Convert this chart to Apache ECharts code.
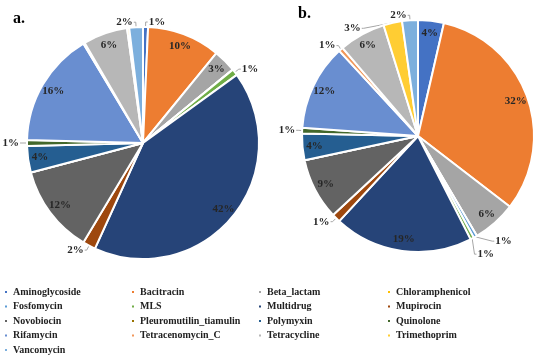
<!DOCTYPE html>
<html>
<head>
<meta charset="utf-8">
<script src="https://cdn.jsdelivr.net/npm/echarts@6/dist/echarts.min.js"></script>
<style>
html,body{margin:0;padding:0;background:#fff;}
#chart{width:545px;height:363px;}
</style>
</head>
<body>
<div id="chart"></div>
<script>
// classes (legend order)
var names = ['Aminoglycoside','Bacitracin','Beta_lactam','Chloramphenicol','Fosfomycin','MLS','Multidrug','Mupirocin',
	'Novobiocin','Pleuromutilin_tiamulin','Polymyxin','Quinolone','Rifamycin','Tetracenomycin_C','Tetracycline','Trimethoprim','Vancomycin'];
var colors = ['#4472C4','#ED7D31','#A5A5A5','#FFC000','#5B9BD5','#70AD47','#264478','#9E480E',
	'#636363','#997300','#255E91','#43682B','#698ED0','#F1975A','#B7B7B7','#FFCD33','#7CAFDD'];
// percentages
var valuesA = [0.7,10.2,3.2,0,0,0.9,41.8,1.8,12.3,0,3.7,0.8,16.0,0.2,6.2,0.3,1.9];
var valuesB = [3.6,31.9,6.1,0,0.5,0.5,19.4,1.2,8.6,0,3.7,0.8,12.0,0.6,6.5,2.6,2.2];
// legend columns
var legendCols = [
	['Aminoglycoside','Fosfomycin','Novobiocin','Rifamycin','Vancomycin'],
	['Bacitracin','MLS','Pleuromutilin_tiamulin','Tetracenomycin_C'],
	['Beta_lactam','Multidrug','Polymyxin','Tetracycline'],
	['Chloramphenicol','Mupirocin','Quinolone','Trimethoprim']
];

var font = 'Liberation Serif, Times New Roman, serif';
var R = 116;

function pct(p){ return Math.round(p.percent) + '%'; }

// main slices, small ones labelled outside
function mainData(vals){
	return vals.map(function(v,i){
		var outside = v >= 0.5 && v < 3;
		return {
			name:names[i], value:v,
			itemStyle:{color:colors[i]},
			label:{show:outside},
			labelLine:{show:outside}
		};
	});
}
// transparent ring carrying the inside labels
function ringData(vals){
	return vals.map(function(v,i){
		return {name:names[i], value:v, label:{show: v >= 3}};
	});
}

function mainSeries(vals, center){
	return {
		type:'pie', center:center, radius:[0,R],
		startAngle:90, clockwise:true, animation:false,
		avoidLabelOverlap:true,
		itemStyle:{borderColor:'#fff', borderWidth:2},
		label:{position:'outside', formatter:pct, color:'#262626', fontFamily:font, fontWeight:'bold', fontSize:11,
			overflow:'none', edgeDistance:1, distanceToLabelLine:1},
		labelLine:{length:5, length2:2, lineStyle:{color:'#a6a6a6', width:1}},
		emphasis:{disabled:true},
		data:mainData(vals)
	};
}
function ringSeries(vals, center){
	return {
		type:'pie', center:center, radius:[R*0.74,R],
		startAngle:90, clockwise:true, animation:false, silent:true,
		itemStyle:{color:'transparent'},
		label:{position:'inside', formatter:pct, color:'#262626', fontFamily:font, fontWeight:'bold', fontSize:11},
		labelLine:{show:false},
		data:ringData(vals)
	};
}

var colX = [3,130,257,386];
var legends = legendCols.map(function(col,k){
	return {
		orient:'vertical', left:colX[k], top:286, padding:0,
		data:col, icon:'rect', itemWidth:4, itemHeight:4, itemGap:2.5,
		selectedMode:false,
		textStyle:{fontFamily:font, fontWeight:'bold', fontSize:10, color:'#222', lineHeight:12}
	};
});

var chart = echarts.init(document.getElementById('chart'));
var option = {
	color:colors,
	title:[
		{text:'a.', left:8, top:6, textStyle:{fontFamily:font, fontWeight:'bold', fontSize:16, color:'#000'}},
		{text:'b.', left:293, top:1, textStyle:{fontFamily:font, fontWeight:'bold', fontSize:16, color:'#000'}}
	],
	legend:legends,
	series:[
		mainSeries(valuesA,[143,143]),
		mainSeries(valuesB,[418,136]),
		ringSeries(valuesA,[143,143]),
		ringSeries(valuesB,[418,136])
	]
};
chart.setOption(option);
</script>
</body>
</html>
